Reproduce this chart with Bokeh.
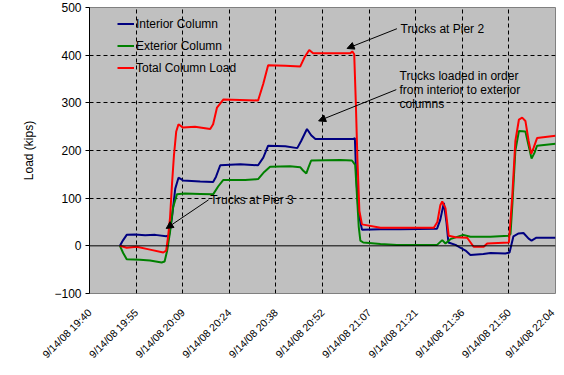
import math
from bokeh.plotting import figure
from bokeh.models import (FixedTicker, Range1d, Span, Label, Arrow, NormalHead,
                          Legend, LegendItem)
from bokeh.embed import file_html
from bokeh.resources import INLINE

FONT = "Liberation Sans"

# ---- data (time in minutes after midnight, 9/14/08; loads in kips) ----
x_ticks = [1180.8, 1195.2, 1209.6, 1224.0, 1238.4, 1252.8, 1267.2, 1281.6, 1296.0, 1310.4, 1324.8]
x_tick_labels = ["9/14/08 19:40", "9/14/08 19:55", "9/14/08 20:09", "9/14/08 20:24",
                 "9/14/08 20:38", "9/14/08 20:52", "9/14/08 21:07", "9/14/08 21:21",
                 "9/14/08 21:36", "9/14/08 21:50", "9/14/08 22:04"]
y_ticks = [-100, 0, 100, 200, 300, 400, 500]

interior_t = [1190.2, 1191.2, 1192.3, 1194.9, 1198.0, 1201.1, 1204.5, 1205.4, 1206.3, 1207.3,
              1208.3, 1209.1, 1209.7, 1215.0, 1219.0, 1219.9, 1221.2, 1227.4, 1232.9, 1234.5,
              1236.0, 1241.3, 1245.0, 1246.2, 1248.0, 1249.3, 1250.6, 1262.3, 1262.8, 1263.2,
              1263.9, 1265.0, 1270.7, 1276.9, 1288.2, 1289.2, 1290.3, 1291.1, 1291.7, 1293.9,
              1295.4, 1297.0, 1298.5, 1302.5, 1304.7, 1309.3, 1310.6, 1311.8, 1313.4, 1314.9,
              1316.5, 1317.4, 1318.9, 1324.8]
interior_v = [0, 12, 23, 24, 22, 23, 20, 22, 60, 120,
              143, 140, 137, 135, 134, 145, 169, 171, 169, 185,
              210, 209, 205, 220, 245, 232, 224, 224, 226, 150,
              70, 34, 35, 35, 36, 55, 90, 50, 7, 2,
              -4, -10, -19, -17, -15, -16, -14, 20, 26, 27,
              15, 11, 17, 17]

exterior_t = [1190.2, 1191.2, 1192.3, 1196.4, 1199.5, 1203.1, 1204.0, 1204.8, 1205.7, 1206.6,
              1207.8, 1210.3, 1215.0, 1219.0, 1220.6, 1222.1, 1228.9, 1232.9, 1234.8, 1236.6,
              1242.8, 1245.9, 1246.8, 1247.8, 1248.5, 1249.3, 1258.3, 1261.9, 1262.9, 1263.5,
              1264.0, 1264.5, 1265.4, 1270.7, 1275.8, 1288.2, 1289.8, 1290.8, 1292.3, 1296.3,
              1298.5, 1304.7, 1310.3, 1310.9, 1311.5, 1312.4, 1313.5, 1315.5, 1316.5, 1317.4,
              1318.3, 1319.1, 1324.8]
exterior_v = [0, -15, -28, -29, -31, -35, -33, -10, 30, 80,
              108, 110, 109, 108, 125, 138, 138, 140, 155, 166,
              167, 165, 158, 152, 165, 179, 180, 179, 170, 100,
              40, 11, 7, 4, 2, 2, 12, 5, 14, 23,
              19, 19, 21, 25, 90, 200, 241, 240, 210, 183,
              195, 210, 214]

total_t = [1190.2, 1192.3, 1195.4, 1199.5, 1203.6, 1204.5, 1205.1, 1205.7, 1206.3, 1206.9,
           1207.6, 1208.3, 1209.7, 1213.4, 1218.1, 1219.0, 1220.2, 1222.2, 1227.4, 1232.9,
           1234.5, 1236.0, 1241.3, 1245.9, 1247.2, 1248.7, 1249.9, 1261.4, 1262.0, 1262.6,
           1263.1, 1263.6, 1264.2, 1265.0, 1270.7, 1280.0, 1287.2, 1288.3, 1289.2, 1289.8,
           1290.8, 1291.8, 1293.9, 1297.5, 1299.5, 1302.6, 1303.7, 1310.4, 1311.4, 1312.4,
           1313.5, 1314.5, 1315.5, 1316.5, 1317.3, 1318.0, 1319.1, 1324.8]
total_v = [0, -4, -2, -8, -14, -10, 20, 60, 130, 190,
           240, 255, 248, 250, 245, 255, 290, 307, 306, 305,
           340, 379, 378, 376, 395, 411, 404, 404, 408, 402,
           300, 180, 73, 45, 38, 38, 38, 50, 85, 93,
           79, 21, 18, 17, -2, -2, 5, 7, 100, 220,
           265, 269, 262, 220, 193, 205, 226, 231]

series_names = ["Interior Column", "Exterior Column", "Total Column Load"]
series_colors = ["#000080", "#008000", "#FF0000"]

# ---- figure ----
p = figure(width=556, height=367, output_backend="svg", toolbar_location=None,
           x_range=Range1d(x_ticks[0], x_ticks[-1]), y_range=Range1d(y_ticks[0], y_ticks[-1]),
           min_border_left=89, min_border_right=1, min_border_top=7, min_border_bottom=72)
p.background_fill_color = "#C0C0C0"
p.border_fill_color = "white"
p.outline_line_color = "#808080"
p.outline_line_width = 1

# grids
p.xgrid.ticker = FixedTicker(ticks=x_ticks[1:-1])
p.ygrid.ticker = FixedTicker(ticks=[t for t in y_ticks if t not in (y_ticks[0], y_ticks[-1], 0)])
for g in (p.xgrid, p.ygrid):
    g.grid_line_color = "black"
    g.grid_line_dash = "4 3"
    g.grid_line_width = 1

# y axis
p.yaxis.ticker = FixedTicker(ticks=y_ticks)
p.yaxis.axis_line_color = "black"
p.yaxis.major_tick_line_color = "black"
p.yaxis.major_tick_out = 4
p.yaxis.major_tick_in = 0
p.yaxis.minor_tick_line_color = None
p.yaxis.major_label_text_font = FONT
p.yaxis.major_label_text_font_size = "12px"
p.yaxis.major_label_text_color = "black"
p.yaxis.major_label_standoff = 4
p.yaxis.axis_label = "Load (kips)"
p.yaxis.axis_label_text_font = FONT
p.yaxis.axis_label_text_font_size = "12px"
p.yaxis.axis_label_text_font_style = "normal"
p.yaxis.axis_label_text_color = "black"
p.yaxis.axis_label_standoff = 15

# x axis
p.xaxis.ticker = FixedTicker(ticks=x_ticks)
p.xaxis.major_label_overrides = {t: lab for t, lab in zip(x_ticks, x_tick_labels)}
p.xaxis.axis_line_color = None
p.xaxis.major_tick_line_color = None
p.xaxis.minor_tick_line_color = None
p.xaxis.major_label_orientation = math.pi / 4
p.xaxis.major_label_text_font = FONT
p.xaxis.major_label_text_font_size = "10.5px"
p.xaxis.major_label_text_color = "black"
p.xaxis.major_label_standoff = 11

# zero line
p.add_layout(Span(location=0, dimension="width", line_color="black", line_width=1))

# series
renderers = []
for tt, vv, c in zip((interior_t, exterior_t, total_t), (interior_v, exterior_v, total_v), series_colors):
    renderers.append(p.line(tt, vv, line_color=c, line_width=2))

legend = Legend(items=[LegendItem(label=n, renderers=[r]) for n, r in zip(series_names, renderers)],
                location=(28, 215), padding=0, margin=0, spacing=1,
                glyph_height=21, glyph_width=17, label_standoff=2,
                background_fill_alpha=0, border_line_color=None,
                label_text_font=FONT, label_text_font_size="12px", label_text_color="black")
p.add_layout(legend)

# annotations
def note(x, y, text):
    p.add_layout(Label(x=x, y=y, text=text, text_font=FONT, text_font_size="12px",
                       text_color="black", text_baseline="middle", text_align="left"))

def arrow(x0, y0, x1, y1):
    p.add_layout(Arrow(end=NormalHead(size=7, fill_color="black", line_color="black"),
                       x_start=x0, y_start=y0, x_end=x1, y_end=y1,
                       line_color="black", line_width=1))

note(1276.9, 455.5, "Trucks at Pier 2")
arrow(1275.8, 455.5, 1260.4, 414.1)
note(1276.6, 356.7, "Trucks loaded in order")
note(1276.6, 327.7, "from interior to exterior")
note(1276.6, 296.7, "columns")
arrow(1275.6, 327.7, 1251.6, 262.1)
note(1218.1, 96.5, "Trucks at Pier 3")
arrow(1217.6, 96.5, 1204.5, 36.4)

open("out.html", "w").write(file_html(p, INLINE))
